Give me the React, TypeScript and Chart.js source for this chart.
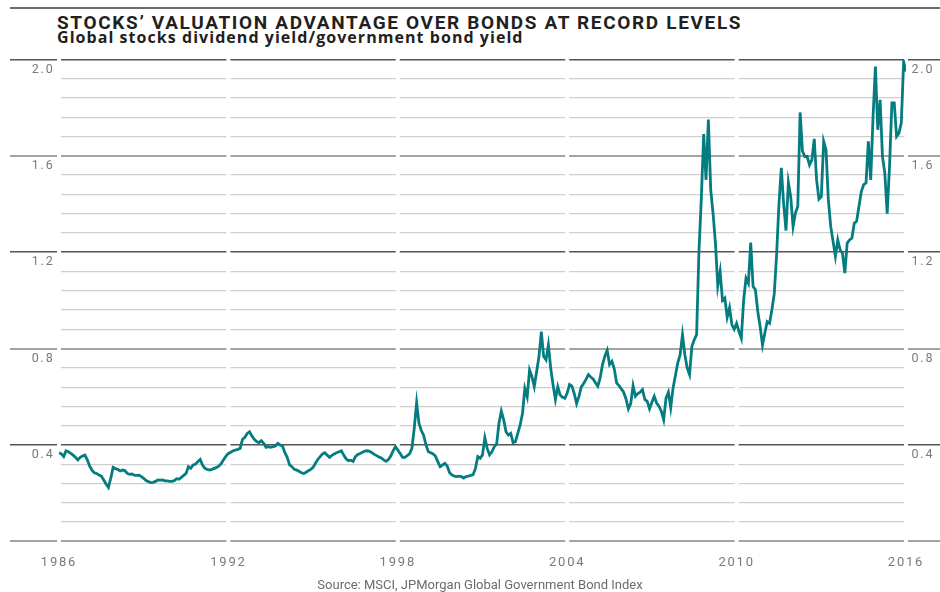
import React, { useEffect, useRef } from 'react';
import { Chart, registerables } from 'chart.js';

Chart.register(...registerables);

// Monthly readings, January of each year first
const values1986to1991 = [
  0.368, 0.363, 0.352, 0.376, 0.372, 0.365, 0.358, 0.349, 0.338, 0.349, 0.354, 0.358,
  0.340, 0.313, 0.296, 0.285, 0.282, 0.275, 0.271, 0.255, 0.238, 0.224, 0.262, 0.307,
  0.302, 0.299, 0.292, 0.296, 0.294, 0.282, 0.278, 0.280, 0.275, 0.274, 0.275, 0.269,
  0.262, 0.252, 0.248, 0.244, 0.245, 0.249, 0.255, 0.254, 0.255, 0.251, 0.251, 0.249,
  0.249, 0.252, 0.260, 0.258, 0.266, 0.274, 0.282, 0.310, 0.303, 0.317, 0.320, 0.331,
  0.340, 0.317, 0.303, 0.299, 0.296, 0.299, 0.303, 0.307, 0.313, 0.324, 0.340, 0.354,
];
const values1992to1997 = [
  0.365, 0.370, 0.376, 0.379, 0.382, 0.386, 0.424, 0.432, 0.448, 0.455, 0.437, 0.424,
  0.414, 0.410, 0.418, 0.407, 0.390, 0.393, 0.390, 0.393, 0.396, 0.407, 0.400, 0.396,
  0.368, 0.349, 0.317, 0.310, 0.299, 0.296, 0.291, 0.285, 0.282, 0.287, 0.293, 0.299,
  0.307, 0.324, 0.340, 0.352, 0.363, 0.368, 0.358, 0.349, 0.357, 0.363, 0.368, 0.372,
  0.376, 0.358, 0.343, 0.335, 0.337, 0.332, 0.352, 0.361, 0.365, 0.370, 0.375, 0.376,
  0.374, 0.368, 0.361, 0.356, 0.350, 0.346, 0.338, 0.332, 0.340, 0.354, 0.376, 0.393,
];
const values1998to2003 = [
  0.379, 0.365, 0.349, 0.349, 0.356, 0.363, 0.386, 0.470, 0.575, 0.490, 0.460, 0.440,
  0.400, 0.372, 0.368, 0.363, 0.354, 0.331, 0.310, 0.317, 0.324, 0.313, 0.285, 0.276,
  0.271, 0.269, 0.271, 0.269, 0.263, 0.269, 0.271, 0.274, 0.277, 0.303, 0.352, 0.345,
  0.359, 0.430, 0.386, 0.359, 0.372, 0.393, 0.404, 0.490, 0.540, 0.504, 0.455, 0.441,
  0.448, 0.410, 0.414, 0.448, 0.483, 0.531, 0.635, 0.600, 0.711, 0.684, 0.642, 0.704,
  0.767, 0.870, 0.767, 0.753, 0.815, 0.718, 0.649, 0.589, 0.642, 0.607, 0.598, 0.594,
];
const values2004to2009 = [
  0.616, 0.651, 0.644, 0.613, 0.572, 0.602, 0.641, 0.655, 0.672, 0.692, 0.682, 0.674,
  0.658, 0.644, 0.678, 0.734, 0.768, 0.793, 0.734, 0.747, 0.716, 0.658, 0.646, 0.633,
  0.619, 0.591, 0.550, 0.572, 0.646, 0.602, 0.613, 0.619, 0.630, 0.589, 0.581, 0.550,
  0.577, 0.602, 0.574, 0.561, 0.540, 0.505, 0.595, 0.619, 0.555, 0.637, 0.688, 0.741,
  0.775, 0.858, 0.775, 0.720, 0.692, 0.810, 0.837, 0.858, 1.204, 1.420, 1.690, 1.500,
  1.750, 1.460, 1.360, 1.240, 1.060, 1.120, 1.000, 1.010, 0.930, 0.970, 0.900, 0.880,
];
const values2010to2015 = [
  0.905, 0.871, 0.843, 1.002, 1.092, 1.071, 1.240, 1.058, 1.044, 0.954, 0.892, 0.815,
  0.864, 0.912, 0.905, 0.961, 1.027, 1.189, 1.400, 1.550, 1.400, 1.290, 1.490, 1.430,
  1.307, 1.362, 1.390, 1.780, 1.620, 1.597, 1.597, 1.562, 1.583, 1.670, 1.500, 1.420,
  1.430, 1.660, 1.625, 1.417, 1.307, 1.245, 1.182, 1.251, 1.210, 1.196, 1.113, 1.238,
  1.251, 1.258, 1.320, 1.328, 1.390, 1.452, 1.480, 1.487, 1.660, 1.500, 1.763, 1.970,
  1.708, 1.832, 1.597, 1.528, 1.360, 1.556, 1.819, 1.819, 1.680, 1.694, 1.736, 1.990,
];
const values2016 = [1.95];

const START_YEAR = 1986;
const xTickYears = [1986, 1992, 1998, 2004, 2010, 2016];
const yMin = 0;
const yMax = 2.0;
const yStep = 0.08;
const labelStep = 0.4;

const TITLE = 'STOCKS\u2019 VALUATION ADVANTAGE OVER BONDS AT RECORD LEVELS';
const SUBTITLE = 'Global stocks dividend yield/government bond yield';
const SOURCE = 'Source: MSCI, JPMorgan Global Government Bond Index';

const allValues = [
  ...values1986to1991,
  ...values1992to1997,
  ...values1998to2003,
  ...values2004to2009,
  ...values2010to2015,
  ...values2016,
];

const isMult = (v: number, m: number) => Math.abs(v / m - Math.round(v / m)) < 1e-6;
const tickVal = (c: any) => (c && c.tick ? c.tick.value : 0);
const gridColor = (c: any) => {
  const v = tickVal(c);
  if (isMult(v, labelStep)) return isMult(v, 0.8) ? '#a3a3a3' : '#555555';
  return '#cfcfcf';
};
const gridWidth = (c: any) => {
  const v = tickVal(c);
  if (isMult(v, labelStep)) return isMult(v, 0.8) ? 2 : 1.5;
  return 1.3;
};
const tickColor = (c: any) => (isMult(tickVal(c), labelStep) ? gridColor(c) : 'rgba(0,0,0,0)');
const labelCb = (v: any) => {
  const n = Number(v);
  return isMult(n, labelStep) && n > 0 ? n.toFixed(1) : '';
};

const gapPlugin = {
  id: 'yearGaps',
  beforeDraw(chart: any) {
    chart.ctx.letterSpacing = '1.8px';
  },
  beforeDatasetsDraw(chart: any) {
    const { ctx, chartArea, scales } = chart;
    const xs = scales.x;
    ctx.save();
    ctx.fillStyle = '#ffffff';
    xs.ticks.forEach((t: any) => {
      const px = xs.getPixelForValue(t.value);
      ctx.fillRect(px - 2, chartArea.top - 3, 4, chartArea.bottom - chartArea.top + 6);
    });
    ctx.restore();
  },
};

export default function App() {
  const canvasRef = useRef<HTMLCanvasElement | null>(null);

  useEffect(() => {
    if (!canvasRef.current) return;
    const points = allValues.map((v, i) => ({ x: START_YEAR + i / 12, y: v }));
    const yTicksBase = {
      stepSize: yStep,
      autoSkip: false,
      color: '#7a7a7a',
      font: { family: 'Roboto', size: 12.5 },
      labelOffset: 10,
      callback: labelCb,
    };
    const chart = new Chart(canvasRef.current, {
      type: 'line',
      data: {
        datasets: [
          {
            data: points,
            borderColor: '#047c80',
            borderWidth: 2.8,
            pointRadius: 0,
            tension: 0,
            fill: false,
            yAxisID: 'y',
          },
        ],
      },
      options: {
        responsive: false,
        animation: false,
        devicePixelRatio: 1,
        layout: { padding: { top: 59.4, left: 10, right: 0, bottom: 20.6 } },
        plugins: {
          legend: { display: false },
          tooltip: { enabled: false },
          title: { display: false },
        },
        scales: {
          x: {
            type: 'linear',
            min: xTickYears[0],
            max: xTickYears[xTickYears.length - 1],
            afterBuildTicks: (scale: any) => {
              scale.ticks = xTickYears.map((y) => ({ value: y }));
            },
            afterFit: (scale: any) => {
              scale.height = 30;
            },
            grid: { display: false },
            border: { display: false },
            ticks: {
              autoSkip: false,
              maxRotation: 0,
              padding: 5.5,
              color: '#7a7a7a',
              font: { family: 'Roboto', size: 13 },
              callback: (v: any) => String(v),
            },
          },
          y: {
            type: 'linear',
            position: 'left',
            min: yMin,
            max: yMax,
            afterFit: (scale: any) => {
              scale.width = 49;
            },
            border: { display: false },
            grid: {
              color: gridColor,
              lineWidth: gridWidth,
              drawTicks: true,
              tickLength: 49,
              tickColor: tickColor,
              tickWidth: gridWidth,
            },
            ticks: { ...yTicksBase, padding: -44.5 },
          },
          yRight: {
            type: 'linear',
            position: 'right',
            min: yMin,
            max: yMax,
            afterFit: (scale: any) => {
              scale.width = 34;
            },
            border: { display: false },
            grid: {
              drawOnChartArea: false,
              color: gridColor,
              lineWidth: gridWidth,
              drawTicks: true,
              tickLength: 34,
              tickColor: tickColor,
              tickWidth: gridWidth,
            },
            ticks: { ...yTicksBase, padding: -28.5 },
          },
        },
      },
      plugins: [gapPlugin],
    } as any);
    return () => chart.destroy();
  }, []);

  return (
    <div
      style={{
        position: 'fixed',
        left: 0,
        top: 0,
        width: 940,
        height: 592,
        background: '#ffffff',
        overflow: 'hidden',
      }}
    >
      <div style={{ position: 'absolute', left: 10, top: 7, width: 930, height: 2, background: '#6a6a6a' }} />
      <div
        style={{
          position: 'absolute',
          left: 57,
          top: 12.5,
          fontFamily: 'Roboto, sans-serif',
          fontWeight: 700,
          fontSize: 19,
          lineHeight: '20px',
          letterSpacing: '1.65px',
          color: '#231f20',
          whiteSpace: 'nowrap',
        }}
      >
        {TITLE}
      </div>
      <div
        style={{
          position: 'absolute',
          left: 57,
          top: 27.8,
          fontFamily: '"Open Sans", sans-serif',
          fontWeight: 700,
          fontSize: 16,
          lineHeight: '18px',
          letterSpacing: '1.05px',
          color: '#231f20',
          whiteSpace: 'nowrap',
        }}
      >
        {SUBTITLE}
      </div>
      <canvas
        ref={canvasRef}
        width={940}
        height={592}
        style={{ position: 'absolute', left: 0, top: 0, width: 940, height: 592 }}
      />
      <div
        style={{
          position: 'absolute',
          left: 0,
          width: 960,
          top: 577.5,
          textAlign: 'center',
          fontFamily: 'Roboto, sans-serif',
          fontSize: 13,
          lineHeight: '14px',
          color: '#6b6b6b',
          whiteSpace: 'nowrap',
        }}
      >
        {SOURCE}
      </div>
    </div>
  );
}
